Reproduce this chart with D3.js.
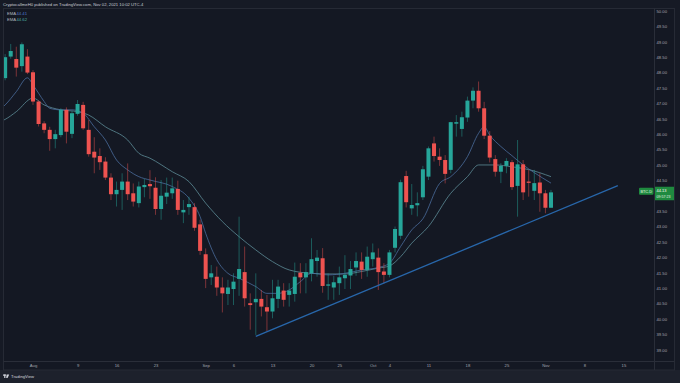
<!DOCTYPE html>
<html>
<head>
<meta charset="utf-8">
<script src="https://cdn.jsdelivr.net/npm/d3@7"></script>
<style>
    body { margin: 0; background: #151924; }
    svg { display: block; font-family: "Liberation Sans", Arial, sans-serif; }
</style>
</head>
<body>
<svg id="chart" width="680" height="383"></svg>
<script>
// BTC.D daily candles, Jul 27 -> Nov 2 2021 (one candle per day)
const firstDay = "2021-07-27";
const opens = [47.82, 48.52, 48.44, 48.21, 48.52, 48.01, 47.06, 46.35, 46.14, 45.84,
    45.97, 46.79, 46.01, 46.66, 46.95, 46.14, 45.43, 45.29, 45.11, 44.59,
    44.05, 44.19, 44.46, 44.08, 43.76, 44.28, 44.38, 44.26, 43.57, 43.97,
    44.08, 44.22, 43.46, 43.63, 43.63, 43.07, 42.10, 41.35, 41.37, 41.02,
    40.81, 40.97, 41.30, 41.52, 40.51, 40.54, 40.65, 40.38, 40.24, 40.65,
    40.92, 40.78, 40.81, 41.50, 41.35, 41.48, 41.88, 41.97, 41.08, 41.02,
    41.16, 41.32, 41.41, 41.67, 41.86, 41.59, 41.94, 41.99, 41.54, 41.43,
    42.31, 42.70, 44.64, 43.59, 43.69, 43.95, 44.62, 45.70, 45.27, 45.16,
    44.84, 46.34, 46.17, 46.54, 47.09, 47.41, 46.84, 45.95, 45.19, 44.78,
    44.97, 45.09, 44.32, 45.02, 44.46, 44.16, 44.43, 44.08, 43.61];
const highs = [48.60, 48.93, 48.84, 48.98, 48.76, 48.08, 47.10, 46.42, 46.24, 46.14,
    46.84, 46.87, 46.75, 47.11, 47.05, 46.46, 45.90, 45.54, 45.25, 44.73,
    44.46, 44.73, 45.05, 44.40, 44.46, 44.55, 44.83, 44.60, 44.51, 44.59,
    44.59, 44.49, 43.86, 43.97, 43.76, 43.22, 42.29, 41.75, 41.70, 41.35,
    41.27, 41.48, 43.32, 42.35, 40.83, 41.48, 40.94, 40.78, 41.27, 41.27,
    41.16, 41.16, 41.83, 41.81, 41.81, 42.62, 42.24, 42.30, 41.48, 41.40,
    41.70, 42.07, 41.88, 42.16, 42.16, 42.35, 42.45, 42.29, 41.81, 42.24,
    43.00, 44.52, 44.81, 44.38, 44.11, 44.97, 45.60, 45.92, 45.54, 45.32,
    46.40, 46.62, 46.73, 47.22, 47.52, 47.71, 47.05, 46.10, 45.32, 45.06,
    45.22, 45.16, 45.81, 45.16, 44.84, 44.84, 44.73, 44.19, 44.19];
const lows = [47.75, 48.45, 47.87, 48.03, 47.95, 46.95, 46.25, 46.03, 45.46, 45.54,
    45.90, 45.70, 45.87, 46.60, 46.14, 45.27, 44.73, 44.84, 44.51, 43.86,
    43.65, 43.54, 43.86, 43.65, 43.62, 43.95, 43.90, 43.38, 43.22, 43.73,
    43.90, 43.38, 43.11, 43.38, 42.86, 42.08, 41.00, 41.10, 40.75, 40.21,
    40.45, 40.45, 40.75, 40.40, 39.65, 39.48, 40.08, 39.60, 40.02, 40.35,
    40.40, 40.40, 40.56, 40.83, 40.83, 41.22, 41.37, 40.85, 40.62, 40.62,
    40.78, 40.97, 40.97, 41.40, 41.30, 41.37, 41.70, 40.94, 41.16, 41.35,
    42.16, 42.59, 43.62, 43.38, 43.33, 43.86, 44.51, 45.11, 44.97, 44.40,
    44.73, 45.92, 45.92, 46.40, 46.84, 46.73, 45.84, 45.08, 44.62, 44.41,
    44.73, 44.19, 43.32, 43.86, 43.97, 43.86, 43.48, 43.43, 43.61];
const closes = [48.50, 48.70, 48.16, 48.92, 48.00, 47.06, 46.33, 46.14, 45.84, 46.00,
    46.79, 46.08, 46.68, 46.98, 46.19, 45.35, 45.24, 45.09, 44.59, 44.05,
    44.19, 44.46, 44.05, 43.81, 44.30, 44.35, 44.31, 43.57, 44.00, 44.10,
    44.24, 43.54, 43.54, 43.73, 42.96, 42.21, 41.30, 41.48, 41.02, 40.83,
    41.02, 41.21, 41.62, 40.67, 40.45, 40.65, 40.40, 40.24, 40.67, 41.05,
    40.62, 40.92, 41.37, 41.35, 41.52, 41.94, 41.99, 41.07, 41.12, 41.19,
    41.35, 41.43, 41.62, 41.88, 41.59, 42.02, 42.16, 41.52, 41.43, 42.16,
    42.92, 44.44, 43.79, 43.70, 43.76, 44.86, 45.54, 45.29, 45.16, 44.71,
    46.39, 46.39, 46.55, 47.09, 47.41, 46.84, 45.95, 45.24, 44.78, 44.97,
    45.13, 44.28, 45.02, 44.11, 44.42, 44.41, 44.08, 43.61, 44.11];

// the two EMA lines
const emaFastDates = ["2021-07-26", "2021-07-27", "2021-07-29", "2021-07-31", "2021-08-01", "2021-08-02",
    "2021-08-03", "2021-08-04", "2021-08-06", "2021-08-08", "2021-08-10", "2021-08-12", "2021-08-14",
    "2021-08-16", "2021-08-18", "2021-08-20", "2021-08-22", "2021-08-26", "2021-08-29", "2021-08-31",
    "2021-09-01", "2021-09-03", "2021-09-05", "2021-09-07", "2021-09-10", "2021-09-12", "2021-09-14",
    "2021-09-16", "2021-09-18", "2021-09-20", "2021-09-23", "2021-09-26", "2021-09-29", "2021-10-02",
    "2021-10-04", "2021-10-06", "2021-10-08", "2021-10-10", "2021-10-13", "2021-10-15", "2021-10-18",
    "2021-10-20", "2021-10-21", "2021-10-22", "2021-10-24", "2021-10-26", "2021-10-28", "2021-10-30",
    "2021-11-02"];
const emaFastValues = [46.80, 46.95, 47.38, 47.83, 47.60, 47.33,
    47.06, 46.84, 46.79, 46.79, 46.68, 46.24, 45.81,
    45.16, 44.84, 44.62, 44.51, 44.30, 43.92, 43.32,
    42.78, 41.92, 41.48, 41.32, 41.05, 40.83, 40.83,
    40.94, 41.21, 41.48, 41.43, 41.48, 41.59, 41.67,
    41.81, 42.35, 42.89, 43.25, 44.40, 44.62, 45.27,
    46.03, 46.24, 45.97, 45.60, 45.30, 45.00, 44.75,
    44.41];
const emaSlowDates = ["2021-07-26", "2021-07-27", "2021-07-29", "2021-08-01", "2021-08-03", "2021-08-06",
    "2021-08-09", "2021-08-11", "2021-08-14", "2021-08-18", "2021-08-20", "2021-08-22", "2021-08-26",
    "2021-08-29", "2021-09-01", "2021-09-04", "2021-09-07", "2021-09-10", "2021-09-13", "2021-09-16",
    "2021-09-20", "2021-09-23", "2021-09-26", "2021-09-29", "2021-10-02", "2021-10-04", "2021-10-06",
    "2021-10-08", "2021-10-11", "2021-10-15", "2021-10-18", "2021-10-20", "2021-10-23", "2021-10-26",
    "2021-10-29", "2021-11-02"];
const emaSlowValues = [46.40, 46.48, 46.73, 47.17, 46.95, 46.79,
    46.73, 46.62, 46.24, 45.81, 45.38, 45.22, 44.78,
    44.46, 43.76, 43.16, 42.67, 42.24, 41.86, 41.59,
    41.48, 41.46, 41.46, 41.54, 41.65, 41.72, 42.02,
    42.46, 43.00, 44.08, 44.62, 45.00, 45.00, 44.94,
    44.85, 44.62];
const emaLegend = ["44.41", "44.62"];

// drawn trend line
const trendDates = ["2021-09-10", "2021-11-14"];
const trendValues = [39.43, 44.33];

// axis labels (44.00 sits under the last-price label)
const priceTicks = [39, 39.5, 40, 40.5, 41, 41.5, 42, 42.5, 43, 43.5, 44.5,
    45, 45.5, 46, 46.5, 47, 47.5, 48, 48.5, 49, 49.5, 50];
const timeTicks = ["2021-08-01", "2021-08-09", "2021-08-16", "2021-08-23", "2021-09-01", "2021-09-06",
    "2021-09-13", "2021-09-20", "2021-09-25", "2021-10-01", "2021-10-04", "2021-10-11", "2021-10-18",
    "2021-10-25", "2021-11-01", "2021-11-08", "2021-11-15"];
const lastPrice = "44.13";
const countdown = "09:57:23";

const parse = d3.utcParse("%Y-%m-%d");
const up = "#26a69a", down = "#ef5350";

const svg = d3.select("#chart");
const pane = {left: 3.5, right: 654, top: 8.5, bottom: 361};

const x = d3.scaleUtc()
    .domain([parse("2021-07-27"), parse("2021-11-15")])
    .range([5.15, 623.4]);
const y = d3.scaleLinear()
    .domain([39, 50])
    .range([349.7, 11]);

const candles = closes.map(function (c, i) {
    return {date: d3.utcDay.offset(parse(firstDay), i), o: opens[i], h: highs[i], l: lows[i], c: c};
});

// backgrounds and frame
svg.append("rect").attr("width", 680).attr("height", 383).attr("fill", "#161a25");
svg.append("rect").attr("x", 0).attr("y", 370).attr("width", 680).attr("height", 13).attr("fill", "#1d212c");
svg.append("rect")
    .attr("x", pane.left).attr("y", pane.top)
    .attr("width", 674.5 - pane.left).attr("height", 370 - pane.top)
    .attr("fill", "#141823").attr("stroke", "#262a35").attr("stroke-width", 1);
svg.append("line")
    .attr("x1", 654.5).attr("x2", 654.5).attr("y1", pane.top).attr("y2", 370)
    .attr("stroke", "#2a2e39");
svg.append("line")
    .attr("x1", pane.left).attr("x2", 674.5).attr("y1", 361.5).attr("y2", 361.5)
    .attr("stroke", "#2a2e39");

svg.append("clipPath").attr("id", "clip")
    .append("rect")
    .attr("x", pane.left + 0.5).attr("y", pane.top + 0.5)
    .attr("width", pane.right - pane.left - 0.5).attr("height", pane.bottom - pane.top - 0.5);

const plot = svg.append("g").attr("clip-path", "url(#clip)");

// EMA lines
const line = d3.line()
    .x(function (d) { return x(d[0]); })
    .y(function (d) { return y(d[1]); })
    .curve(d3.curveMonotoneX);

plot.append("path")
    .datum(d3.zip(emaSlowDates.map(parse), emaSlowValues))
    .attr("fill", "none")
    .attr("stroke", "#5d8c97")
    .attr("stroke-width", 0.8)
    .attr("d", line);

plot.append("path")
    .datum(d3.zip(emaFastDates.map(parse), emaFastValues))
    .attr("fill", "none")
    .attr("stroke", "#4a6c9c")
    .attr("stroke-width", 0.8)
    .attr("d", line);

// candles
const candle = plot.append("g").selectAll("g")
    .data(candles)
    .enter()
    .append("g");

candle.append("line")
    .attr("x1", function (d) { return x(d.date); })
    .attr("x2", function (d) { return x(d.date); })
    .attr("y1", function (d) { return y(d.h); })
    .attr("y2", function (d) { return y(d.l); })
    .attr("stroke", function (d) { return d.c >= d.o ? up : down; })
    .attr("stroke-opacity", 0.6)
    .attr("stroke-width", 0.8);

candle.append("rect")
    .attr("x", function (d) { return x(d.date) - 2; })
    .attr("width", 4)
    .attr("y", function (d) { return y(Math.max(d.o, d.c)); })
    .attr("height", function (d) { return Math.max(1, Math.abs(y(d.o) - y(d.c))); })
    .attr("fill", function (d) { return d.c >= d.o ? up : down; });

// trend line
plot.append("path")
    .datum(d3.zip(trendDates.map(parse), trendValues))
    .attr("fill", "none")
    .attr("stroke", "#2867ab")
    .attr("stroke-width", 1.3)
    .attr("d", d3.line().x(function (d) { return x(d[0]); }).y(function (d) { return y(d[1]); }));

// price axis
const yAxis = svg.append("g")
    .attr("transform", "translate(654.5,0)")
    .call(d3.axisRight(y).tickValues(priceTicks).tickSize(0).tickPadding(2)
        .tickFormat(d3.format(".2f")));
yAxis.select(".domain").remove();
yAxis.selectAll("text").attr("fill", "#a3a6af").attr("font-size", 4.2).attr("font-family", "Liberation Sans, Arial, sans-serif");

// time axis
const fmtMonth = d3.utcFormat("%b"), fmtDay = d3.utcFormat("%-d");
const xAxis = svg.append("g")
    .attr("transform", "translate(0,361.5)")
    .call(d3.axisBottom(x).tickValues(timeTicks.map(parse)).tickSize(0).tickPadding(3)
        .tickFormat(function (d) { return d.getUTCDate() === 1 ? fmtMonth(d) : fmtDay(d); }));
xAxis.select(".domain").remove();
xAxis.selectAll("text").attr("fill", "#a3a6af").attr("font-size", 4.2).attr("font-family", "Liberation Sans, Arial, sans-serif");

// last price labels
const yLast = y(+lastPrice);
svg.append("rect")
    .attr("x", 639).attr("y", yLast - 4).attr("width", 14.5).attr("height", 7).attr("rx", 1)
    .attr("fill", "#1f8a3f");
svg.append("text")
    .attr("x", 646.2).attr("y", yLast + 1.5).attr("text-anchor", "middle")
    .attr("font-size", 3.8).attr("fill", "#e8f5e9").text("BTC.D");
svg.append("rect")
    .attr("x", 655).attr("y", yLast - 5).attr("width", 19).attr("height", 13.5)
    .attr("fill", "#1f8a3f");
svg.append("text")
    .attr("x", 656.5).attr("y", yLast + 0.6)
    .attr("font-size", 4).attr("fill", "#ffffff").text(lastPrice);
svg.append("text")
    .attr("x", 656.5).attr("y", yLast + 6.6)
    .attr("font-size", 3.6).attr("fill", "#e8f5e9").text(countdown);

// header and legend
svg.append("text")
    .attr("x", 3).attr("y", 6)
    .attr("font-size", 4.2).attr("fill", "#c9ccd4")
    .text("CryptocaIlmeH0 published on TradingView.com, Nov 02, 2021 10:02 UTC-4");

const legend = svg.append("g").selectAll("g")
    .data(emaLegend)
    .enter()
    .append("g")
    .attr("transform", function (d, i) { return "translate(7," + (15 + i * 5.8) + ")"; });
legend.append("text")
    .attr("font-size", 4.2).attr("fill", "#b2b5be").text("EMA");
legend.append("text")
    .attr("x", 9.5)
    .attr("font-size", 4.2)
    .attr("fill", function (d, i) { return i === 0 ? "#4f7ccc" : "#4fb0a8"; })
    .text(function (d) { return d; });

// footer logo
const logo = svg.append("g").attr("transform", "translate(3,374.5)");
logo.append("rect").attr("x", 0).attr("y", 0).attr("width", 3).attr("height", 1.2).attr("fill", "#d1d4dc");
logo.append("rect").attr("x", 1.2).attr("y", 0).attr("width", 1.2).attr("height", 3.5).attr("fill", "#d1d4dc");
logo.append("path").attr("d", "M3.6,0 L6.2,0 L4.6,3.5 L3.2,3.5 Z").attr("fill", "#d1d4dc");
logo.append("text")
    .attr("x", 8).attr("y", 3.4)
    .attr("font-size", 4.2).attr("fill", "#d1d4dc").text("TradingView");
</script>
</body>
</html>
